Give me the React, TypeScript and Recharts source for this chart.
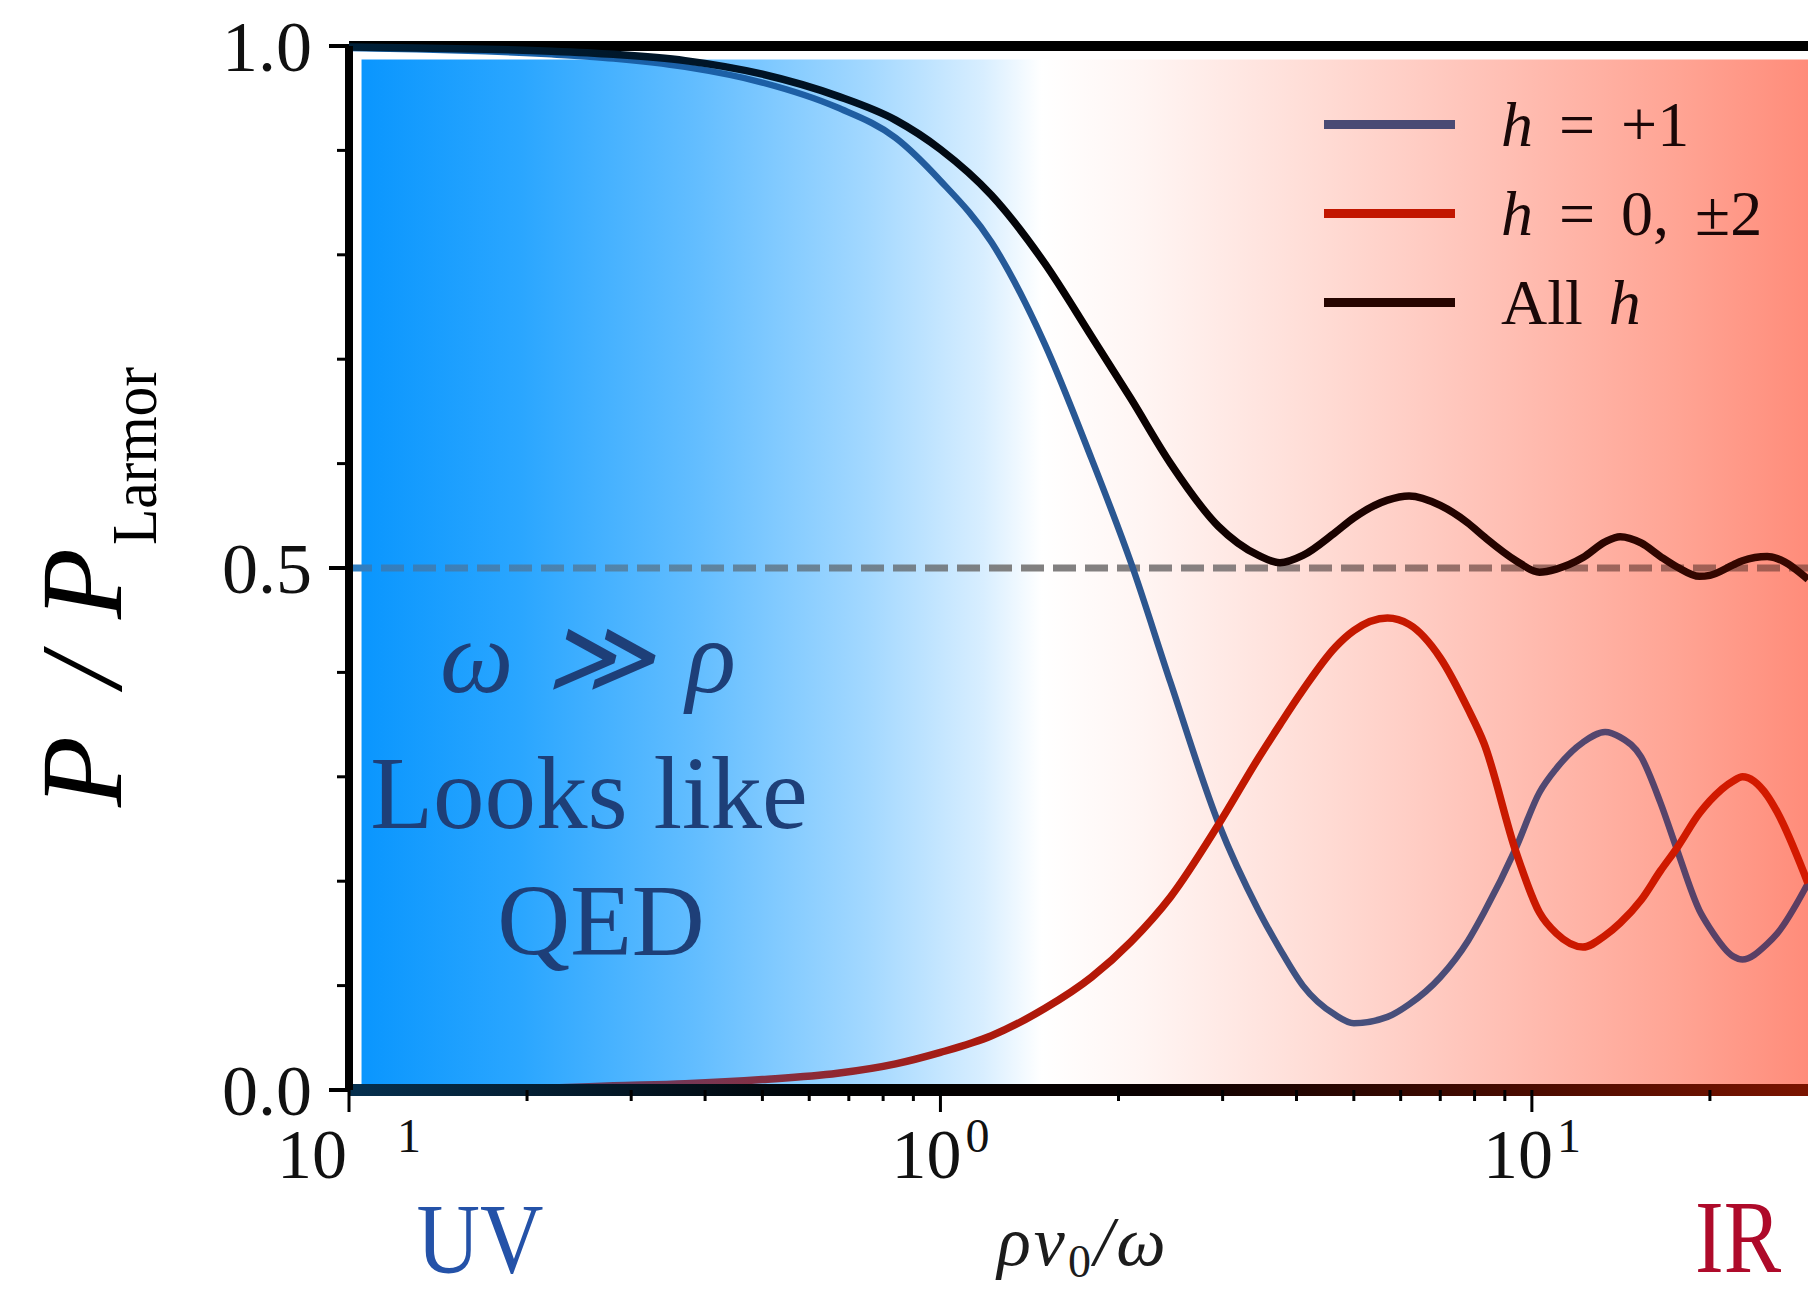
import {
  LineChart,
  Line,
  XAxis,
  YAxis,
  ReferenceLine,
  ReferenceArea,
  Legend,
} from "recharts";

const SERIF = '"Liberation Serif", "DejaVu Serif", serif';

// x = ρ v0 / ω (log axis), y = P / P_Larmor
const XS = [
  0.1, 0.13, 0.17, 0.22, 0.28, 0.37, 0.5, 0.67, 0.84, 1.0, 1.22, 1.5, 1.8, 2.1,
  2.45, 2.95, 3.45, 3.75, 4.1, 4.65, 5.0, 5.7, 6.2, 7.0, 7.8, 8.3, 9.4, 10.3,
  11.0, 12.2, 13.3, 14.1, 15.3, 16.5, 17.6, 19.2, 20.0, 21.9, 22.7, 25.0, 26.0,
  29.3,
];
const H_PLUS_ONE = [
  0.998, 0.997, 0.995, 0.992, 0.988, 0.98, 0.965, 0.941, 0.912, 0.871, 0.812,
  0.715, 0.605, 0.505, 0.39, 0.256, 0.172, 0.135, 0.1, 0.072, 0.064, 0.07,
  0.082, 0.108, 0.143, 0.17, 0.232, 0.285, 0.308, 0.333, 0.343, 0.338, 0.319,
  0.275, 0.23, 0.172, 0.155, 0.128, 0.125, 0.14, 0.15, 0.198,
];
const H_ZERO_TWO = [
  0.0, 0.0, 0.001, 0.002, 0.004, 0.006, 0.01, 0.016, 0.025, 0.036, 0.052,
  0.078, 0.108, 0.142, 0.185, 0.254, 0.318, 0.35, 0.383, 0.424, 0.44, 0.452,
  0.446, 0.414, 0.365, 0.332, 0.228, 0.17, 0.15, 0.137, 0.148, 0.16, 0.182,
  0.21, 0.232, 0.265, 0.277, 0.296, 0.3, 0.282, 0.266, 0.198,
];
const H_ALL = [
  0.999, 0.998, 0.997, 0.995, 0.992, 0.986, 0.973, 0.952, 0.929, 0.901, 0.857,
  0.792, 0.722, 0.662, 0.6, 0.54, 0.512, 0.505, 0.512, 0.534, 0.548, 0.565,
  0.569, 0.56, 0.543, 0.53, 0.507, 0.496, 0.499, 0.51, 0.525, 0.53, 0.524,
  0.511, 0.501, 0.492, 0.493, 0.503, 0.507, 0.511, 0.509, 0.489,
];

const X_TICKS = [
  0.1, 0.2, 0.3, 0.4, 0.5, 0.6, 0.7, 0.8, 0.9, 1, 2, 3, 4, 5, 6, 7, 8, 9, 10,
  20,
];
const X_MAJOR = [0.1, 1, 10];
const X_EXPONENTS = ["1", "0", "1"]; // the minus of 10^-1 is not visible in the source
const Y_TICKS = [0, 0.1, 0.2, 0.3, 0.4, 0.5, 0.6, 0.7, 0.8, 0.9, 1];
const Y_MAJOR = [0, 0.5, 1];

const SERIES_KEYS = ["plus", "mixed", "all"];
const SERIES_LABELS = ["h = +1", "h = 0, ±2", "All h"];
const LEGEND_COLORS = ["#4a4a74", "#c21600", "#260500"];

const data = XS.map((x, i) => ({
  x,
  plus: H_PLUS_ONE[i],
  mixed: H_ZERO_TWO[i],
  all: H_ALL[i],
}));

const W = 1808;
const H = 1294;
const PLOT_LEFT = 349;
const PLOT_TOP = 46;
const PLOT_BOTTOM = 1090;
const Y_AXIS_W = 120;
const X_AXIS_H = 100;

function XTick(props: any) {
  const { x, y, payload } = props;
  const idx = X_MAJOR.indexOf(payload.value);
  const major = idx >= 0;
  return (
    <g>
      <line x1={x} x2={x} y1={y} y2={y + (major ? 22 : 11)} stroke="#000" strokeWidth={3} />
      {major && (
        <text x={x} y={y + 88} textAnchor="middle" fontFamily={SERIF} fontSize={70} fill="#111">
          <tspan>10</tspan>
          <tspan dx={idx === 0 ? 50 : 4} dy={-26} fontSize={48}>
            {X_EXPONENTS[idx]}
          </tspan>
        </text>
      )}
    </g>
  );
}

function YTick(props: any) {
  const { x, y, payload } = props;
  const major = Y_MAJOR.includes(payload.value);
  return (
    <g>
      <line x1={x - (major ? 20 : 12)} x2={x} y1={y} y2={y} stroke="#000" strokeWidth={major ? 4 : 3} />
      {major && (
        <text x={x - 37} y={y + 25} textAnchor="end" fontFamily={SERIF} fontSize={72} fill="#111">
          {payload.value.toFixed(1)}
        </text>
      )}
    </g>
  );
}

const renderYLabel = () => (
  <g transform="translate(121, 807) rotate(-90)">
    <text fontFamily={SERIF} fill="#000">
      <tspan x={0} y={0} fontSize={116} fontStyle="italic">P</tspan>
      <tspan x={120} y={0} fontSize={116} fontStyle="italic">/</tspan>
      <tspan x={188} y={0} fontSize={116} fontStyle="italic">P</tspan>
      <tspan x={262} y={35} fontSize={64} textLength={178} lengthAdjust="spacingAndGlyphs">
        Larmor
      </tspan>
    </text>
  </g>
);

const renderXLabel = () => (
  <g fontFamily={SERIF}>
    <text x={1083} y={1265} textAnchor="middle" fontStyle="italic" fontSize={70} fill="#1c1c1c" letterSpacing={3}>
      ρv<tspan fontStyle="normal" fontSize={46} dy={12}>0</tspan>
      <tspan dy={-12}>/ω</tspan>
    </text>
    <text x={480} y={1272} textAnchor="middle" fontSize={100} fill="#2452a8" textLength={127} lengthAdjust="spacingAndGlyphs">
      UV
    </text>
    <text x={1738} y={1272} textAnchor="middle" fontSize={104} fill="#ae0a2a" textLength={86} lengthAdjust="spacingAndGlyphs">
      IR
    </text>
  </g>
);

const renderNote = () => (
  <g fontFamily={SERIF} fill="#1e3f78" textAnchor="middle">
    <text x={588} y={692} fontSize={104} fontStyle="italic" textLength={296} lengthAdjust="spacing">
      ω ≫ ρ
    </text>
    <text x={589} y={828} fontSize={103}>
      Looks like
    </text>
    <text x={601} y={955} fontSize={101}>
      QED
    </text>
  </g>
);

function italicH(label: string) {
  return label.split(" ").map((tok, i) => (
    <span key={i} style={{ fontStyle: tok === "h" ? "italic" : "normal" }}>
      {tok}
      {" "}
    </span>
  ));
}

const renderLegend = () => (
  <div style={{ fontFamily: SERIF, fontSize: 64, color: "#1a0808" }}>
    {SERIES_LABELS.map((label, i) => (
      <div key={label} style={{ display: "flex", alignItems: "center", height: 89 }}>
        <div style={{ width: 131, height: 9, background: LEGEND_COLORS[i] }} />
        <div style={{ marginLeft: 46, lineHeight: 1, whiteSpace: "nowrap", wordSpacing: 10 }}>
          {italicH(label)}
        </div>
      </div>
    ))}
  </div>
);

export default function App() {
  const span = { x1: PLOT_LEFT, x2: W, y1: 0, y2: 0 };
  return (
    <div
      style={{
        position: "absolute",
        left: 0,
        top: 0,
        width: W,
        height: H,
        overflow: "hidden",
        background: "#fff",
      }}
    >
      <LineChart
        width={W}
        height={H}
        data={data}
        margin={{
          top: PLOT_TOP,
          right: 0,
          left: PLOT_LEFT - Y_AXIS_W,
          bottom: H - PLOT_BOTTOM - X_AXIS_H,
        }}
      >
        <defs>
          <linearGradient id="bgGrad" x1="0" x2="1" y1="0" y2="0">
            <stop offset="0" stopColor="#0a96fe" />
            <stop offset="0.11" stopColor="#2aa6ff" />
            <stop offset="0.23" stopColor="#62bdff" />
            <stop offset="0.35" stopColor="#a3d8ff" />
            <stop offset="0.43" stopColor="#d8eeff" />
            <stop offset="0.47" stopColor="#ffffff" />
            <stop offset="0.54" stopColor="#fff5f3" />
            <stop offset="0.67" stopColor="#ffdad3" />
            <stop offset="0.79" stopColor="#ffbfb4" />
            <stop offset="0.91" stopColor="#ffa494" />
            <stop offset="1" stopColor="#ff8c7a" />
          </linearGradient>
          <linearGradient id="plusGrad" gradientUnits="userSpaceOnUse" {...span}>
            <stop offset="0" stopColor="#1565b0" />
            <stop offset="0.31" stopColor="#1d5fa5" />
            <stop offset="0.54" stopColor="#2b5690" />
            <stop offset="0.69" stopColor="#46507c" />
            <stop offset="0.86" stopColor="#54466e" />
            <stop offset="1" stopColor="#5c3d62" />
          </linearGradient>
          <linearGradient id="mixedGrad" gradientUnits="userSpaceOnUse" {...span}>
            <stop offset="0" stopColor="#3a4a80" />
            <stop offset="0.25" stopColor="#7a3550" />
            <stop offset="0.42" stopColor="#a81a10" />
            <stop offset="0.6" stopColor="#c01800" />
            <stop offset="1" stopColor="#d41a00" />
          </linearGradient>
          <linearGradient id="allGrad" gradientUnits="userSpaceOnUse" {...span}>
            <stop offset="0" stopColor="#002038" />
            <stop offset="0.35" stopColor="#001020" />
            <stop offset="0.5" stopColor="#050000" />
            <stop offset="0.75" stopColor="#220300" />
            <stop offset="1" stopColor="#3a0800" />
          </linearGradient>
          <linearGradient id="dashGrad" gradientUnits="userSpaceOnUse" {...span}>
            <stop offset="0" stopColor="#2f7dc0" />
            <stop offset="0.2" stopColor="#5585a8" />
            <stop offset="0.45" stopColor="#808080" />
            <stop offset="0.6" stopColor="#888080" />
            <stop offset="0.8" stopColor="#9a6a62" />
            <stop offset="1" stopColor="#a45a4e" />
          </linearGradient>
          <linearGradient id="bottomAxisGrad" gradientUnits="userSpaceOnUse" {...span}>
            <stop offset="0" stopColor="#06304f" />
            <stop offset="0.35" stopColor="#000000" />
            <stop offset="0.55" stopColor="#0a0000" />
            <stop offset="1" stopColor="#7a1400" />
          </linearGradient>
        </defs>

        <ReferenceArea
          x1={0.105}
          x2={29.3}
          y1={0}
          y2={0.987}
          fill="url(#bgGrad)"
          fillOpacity={1}
          stroke="none"
          label={renderNote}
        />

        <XAxis
          dataKey="x"
          type="number"
          scale="log"
          domain={[0.1, 29.3]}
          allowDataOverflow
          ticks={X_TICKS}
          interval={0}
          height={X_AXIS_H}
          tickSize={0}
          tickMargin={0}
          tickLine={false}
          tick={<XTick />}
          axisLine={{ stroke: "url(#bottomAxisGrad)", strokeWidth: 12 }}
          label={renderXLabel}
        />
        <YAxis
          type="number"
          domain={[0, 1]}
          ticks={Y_TICKS}
          interval={0}
          width={Y_AXIS_W}
          tickSize={0}
          tickMargin={0}
          tickLine={false}
          tick={<YTick />}
          axisLine={{ stroke: "#000", strokeWidth: 8 }}
          label={renderYLabel}
        />

        <ReferenceLine y={1} stroke="#000" strokeWidth={10} />
        <ReferenceLine
          y={0.5}
          stroke="url(#dashGrad)"
          strokeWidth={7}
          strokeDasharray="23 9"
        />

        <Line
          type="monotone"
          dataKey={SERIES_KEYS[0]}
          name={SERIES_LABELS[0]}
          stroke="url(#plusGrad)"
          strokeWidth={6.5}
          dot={false}
          activeDot={false}
          isAnimationActive={false}
        />
        <Line
          type="monotone"
          dataKey={SERIES_KEYS[1]}
          name={SERIES_LABELS[1]}
          stroke="url(#mixedGrad)"
          strokeWidth={7.5}
          dot={false}
          activeDot={false}
          isAnimationActive={false}
        />
        <Line
          type="monotone"
          dataKey={SERIES_KEYS[2]}
          name={SERIES_LABELS[2]}
          stroke="url(#allGrad)"
          strokeWidth={7.5}
          dot={false}
          activeDot={false}
          isAnimationActive={false}
        />

        <Legend
          layout="vertical"
          align="center"
          verticalAlign="middle"
          content={renderLegend}
          wrapperStyle={{ top: 80, left: 1324, width: 480, height: 267 }}
        />
      </LineChart>
    </div>
  );
}
